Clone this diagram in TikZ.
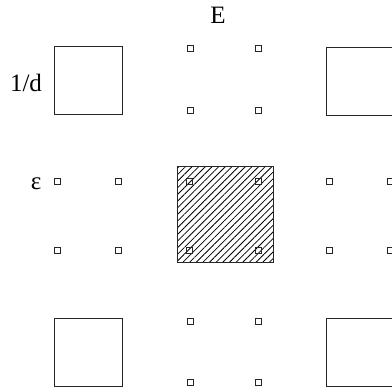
\documentclass[tikz,border=0pt]{standalone}
\usepackage{fontspec}
\setmainfont{Liberation Serif}
\usepackage{tikz}
\usetikzlibrary{patterns.meta}

\begin{document}
\begin{tikzpicture}[
  x=1pt, y=-1pt,
  cellbox/.style={draw=black!85, line width=1pt, minimum size=68pt, inner sep=0pt},
  hatchbox/.style={draw=black!85, line width=1pt, minimum size=96pt, inner sep=0pt,
    pattern={Lines[angle=45,distance=4.7pt,line width=0.8pt]}},
  marker/.style={draw=black!85, line width=0.9pt, minimum size=6pt, inner sep=0pt},
  lbl/.style={font=\fontsize{25}{30}\selectfont, inner sep=0pt, anchor=base}
]
  \useasboundingbox (0,0) rectangle (392,392);
  \clip (0,0) rectangle (392,392);
  % corner cells
  \foreach \name/\cx/\cy in {tl/88/80, tr/360/81, bl/88/352, br/360/352}
    \node[cellbox] (\name) at (\cx,\cy) {};
  % centre cell
  \node[hatchbox] (mid) at (225,214) {};
  % small markers
  \foreach \name/\cx/\cy in {
    ta/190/48, tb/258/48, tc/190/110, td/258/110,
    la/57/181, lb/118/181, lc/57/250, ld/118/250,
    ma/189/181, mb/258/181, mc/189/250, md/258/250,
    ra/329/181, rb/390/181, rc/329/250, rd/390/250,
    ba/190/321, bb/258/321, bc/190/382, bd/258/382
  }
    \node[marker] (\name) at (\cx,\cy) {};
  % labels
  \node[lbl] (labE) at (218,23) {E};
  \node[lbl] (labd) at (26,91) {1/d};
  \node[lbl] (labeps) at (36,189) {ε};
\end{tikzpicture}
\end{document}
